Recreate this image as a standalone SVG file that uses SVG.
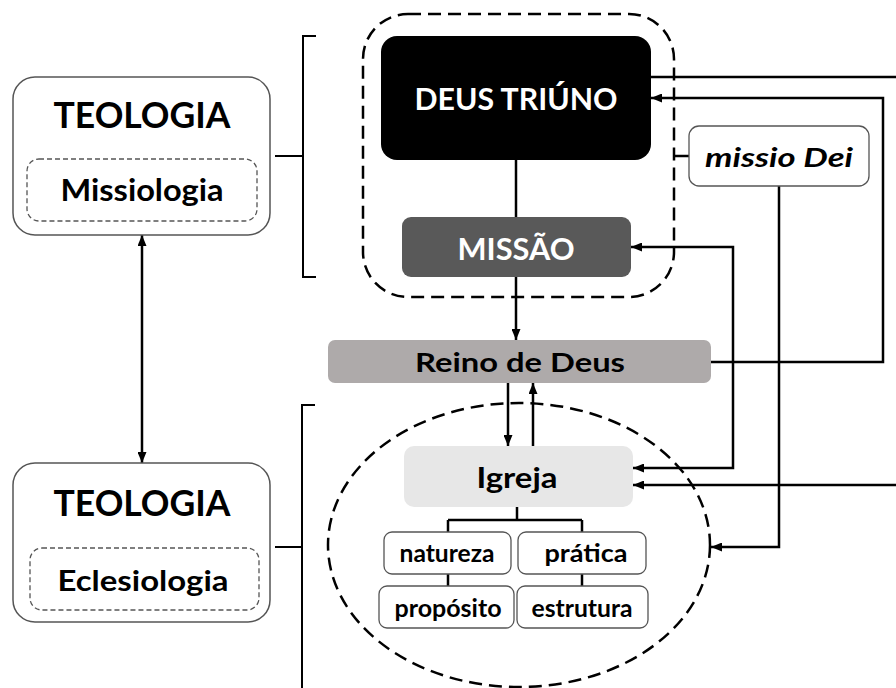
<svg xmlns="http://www.w3.org/2000/svg" width="896" height="688" viewBox="0 0 896 688">
<defs>
<marker id="ah" markerUnits="userSpaceOnUse" markerWidth="11" markerHeight="9" refX="11" refY="4.5" orient="auto-start-reverse">
<path d="M0,0 L11,4.5 L0,9 z" fill="#000"/>
</marker>
</defs>
<style>
text{font-family:Lato,"Open Sans","Liberation Sans",sans-serif;font-weight:700;text-anchor:middle}
.outer{fill:#fff;stroke:#555;stroke-width:1.5}
.inner{fill:none;stroke:#555;stroke-width:1.3;stroke-dasharray:5 3}
.grp{fill:none;stroke:#000;stroke-width:2.5;stroke-dasharray:13 7}
.c{fill:none;stroke:#000;stroke-width:2.5}
.ar{marker-end:url(#ah)}
.br{fill:none;stroke:#000;stroke-width:2}
.small{fill:#fff;stroke:#555;stroke-width:1.3}
.sm{font-size:24px;font-weight:700}
</style>
<rect width="896" height="688" fill="#fff"/>

<g id="group-deus">
<rect class="grp" x="363" y="14" width="311" height="283" rx="45"/>
</g>
<g id="group-igreja">
<ellipse class="grp" cx="519" cy="545" rx="191" ry="142"/>
</g>

<g id="connectors">
<line class="c" x1="142" y1="235" x2="142" y2="463" marker-start="url(#ah)" marker-end="url(#ah)"/>
<path class="br" d="M316,36 H303 V277 H316 M275,156 H303"/>
<path class="br" d="M315,405 H302 V688 M275,547 H302"/>
<line class="c" x1="516" y1="160" x2="516" y2="217"/>
<line class="c ar" x1="516" y1="277" x2="516" y2="340"/>
<line class="c ar" x1="508" y1="383" x2="508" y2="446"/>
<line class="c ar" x1="533" y1="446" x2="533" y2="383"/>
<path class="c" d="M517,507 V520 M448,520 H582 M448,520 V532 M582,520 V532"/>
<path class="c" d="M448,574 V586 M582,574 V586"/>
<line class="c" x1="651" y1="77" x2="896" y2="77"/>
<path class="c ar" d="M711,362 H883 V98 H651"/>
<line class="c" x1="674" y1="156" x2="689" y2="156"/>
<path class="c ar" d="M779,186 V547 H711"/>
<path class="c ar" d="M633,468 H733 V247 H631" marker-start="url(#ah)"/>
<line class="c ar" x1="896" y1="485" x2="633" y2="485"/>
</g>

<g id="teologia-missiologia">
<rect class="outer" x="13" y="77" width="257" height="158" rx="22"/>
<text x="142" y="128" font-size="36" textLength="177" lengthAdjust="spacingAndGlyphs">TEOLOGIA</text>
<rect class="inner" x="27" y="159" width="230" height="62" rx="12"/>
<text x="142" y="201" font-size="30" textLength="163" lengthAdjust="spacingAndGlyphs">Missiologia</text>
</g>

<g id="teologia-eclesiologia">
<rect class="outer" x="13" y="463" width="257" height="159" rx="22"/>
<text x="142" y="516" font-size="36" textLength="177" lengthAdjust="spacingAndGlyphs">TEOLOGIA</text>
<rect class="inner" x="30" y="548" width="229" height="62" rx="12"/>
<text x="143" y="591" font-size="28" textLength="171" lengthAdjust="spacingAndGlyphs">Eclesiologia</text>
</g>

<g id="deus-triuno">
<rect x="381" y="36" width="270" height="124" rx="16" fill="#000"/>
<text x="516" y="110" font-size="30" fill="#fff" textLength="203" lengthAdjust="spacingAndGlyphs">DEUS TRIÚNO</text>
</g>

<g id="missao">
<rect x="402" y="217" width="229" height="60" rx="9" fill="#595959"/>
<text x="516" y="260" font-size="31" fill="#fff" textLength="117" lengthAdjust="spacingAndGlyphs">MISSÃO</text>
</g>

<g id="missio-dei">
<rect class="small" x="689" y="126" width="180" height="60" rx="10"/>
<text x="779" y="167" font-size="27" font-style="italic" textLength="148" lengthAdjust="spacingAndGlyphs">missio Dei</text>
</g>

<g id="reino-de-deus">
<rect x="328" y="340" width="383" height="43" rx="7" fill="#aeaaaa"/>
<text x="520" y="372" font-size="27" textLength="210" lengthAdjust="spacingAndGlyphs">Reino de Deus</text>
</g>

<g id="igreja">
<rect x="404" y="446" width="229" height="61" rx="10" fill="#e7e7e7"/>
<text x="517" y="488" font-size="29" textLength="81" lengthAdjust="spacingAndGlyphs">Igreja</text>
</g>

<g id="natureza">
<rect class="small" x="384" y="532" width="127" height="42" rx="8"/>
<text class="sm" x="447" y="562" textLength="95" lengthAdjust="spacingAndGlyphs">natureza</text>
</g>
<g id="pratica">
<rect class="small" x="518" y="532" width="128" height="42" rx="8"/>
<text class="sm" x="586" y="562" textLength="83" lengthAdjust="spacingAndGlyphs">prática</text>
</g>
<g id="proposito">
<rect class="small" x="379" y="586" width="135" height="42" rx="8"/>
<text class="sm" x="448" y="617" textLength="107" lengthAdjust="spacingAndGlyphs">propósito</text>
</g>
<g id="estrutura">
<rect class="small" x="517" y="586" width="131" height="42" rx="8"/>
<text class="sm" x="582" y="617" textLength="101" lengthAdjust="spacingAndGlyphs">estrutura</text>
</g>
</svg>
